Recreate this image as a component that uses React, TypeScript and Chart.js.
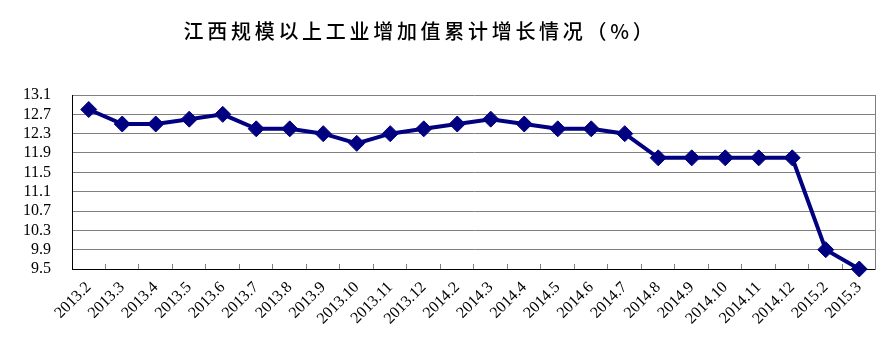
import React, { useEffect, useRef } from "react";
import { Chart, registerables } from "chart.js";

Chart.register(...registerables);

const titleText = "江西规模以上工业增加值累计增长情况（%）";

const categories = [
  "2013.2", "2013.3", "2013.4", "2013.5", "2013.6", "2013.7", "2013.8", "2013.9",
  "2013.10", "2013.11", "2013.12", "2014.2", "2014.3", "2014.4", "2014.5", "2014.6",
  "2014.7", "2014.8", "2014.9", "2014.10", "2014.11", "2014.12", "2015.2", "2015.3",
];

const growthValues = [
  12.8, 12.5, 12.5, 12.6, 12.7, 12.4, 12.4, 12.3,
  12.1, 12.3, 12.4, 12.5, 12.6, 12.5, 12.4, 12.4,
  12.3, 11.8, 11.8, 11.8, 11.8, 11.8, 9.9, 9.5,
];

const yTickValues = [9.5, 9.9, 10.3, 10.7, 11.1, 11.5, 11.9, 12.3, 12.7, 13.1];

const titlePlugin = {
  id: "customTitle",
  afterDraw(chart: any) {
    const ctx = chart.ctx;
    ctx.save();
    ctx.font = '500 20px "Noto Sans CJK SC"';
    try { (ctx as any).letterSpacing = "3.7px"; } catch (e) {}
    ctx.fillStyle = "#000";
    ctx.textAlign = "center";
    ctx.textBaseline = "middle";
    ctx.fillText(titleText, 412, 23);
    ctx.restore();
  },
};

export default function App() {
  const canvasRef = useRef<HTMLCanvasElement | null>(null);

  useEffect(() => {
    if (!canvasRef.current) return;
    const chart = new Chart(canvasRef.current, {
      type: "line",
      data: {
        labels: categories,
        datasets: [
          {
            data: growthValues,
            borderColor: "#000080",
            backgroundColor: "#000080",
            borderWidth: 4,
            pointStyle: "rectRot",
            pointRadius: 8,
            pointHoverRadius: 8,
            pointBackgroundColor: "#000080",
            pointBorderColor: "#000080",
            pointBorderWidth: 1,
            tension: 0,
            clip: false as any,
          },
        ],
      },
      options: {
        animation: false,
        responsive: true,
        maintainAspectRatio: false,
        layout: { padding: { top: 87, right: 9, left: 0, bottom: 0 } },
        plugins: {
          legend: { display: false },
          title: { display: false },
          tooltip: { enabled: false },
        },
        scales: {
          x: {
            offset: true,
            grid: {
              offset: true,
              drawOnChartArea: false,
              drawTicks: true,
              tickLength: -5,
              color: "#808080",
            },
            border: { color: "#000", width: 1 },
            ticks: {
              autoSkip: false,
              maxRotation: 45,
              minRotation: 45,
              padding: 14,
              color: "#000",
              font: { family: '"Liberation Serif"', size: 16 },
            },
            afterFit: (s: any) => {
              s.height = 87;
            },
          },
          y: {
            min: 9.5,
            max: 13.1,
            grid: { color: "#808080", drawTicks: false },
            border: { color: "#000", width: 1 },
            ticks: {
              autoSkip: false,
              padding: 21,
              color: "#000",
              font: { family: '"Liberation Serif"', size: 16 },
              callback: (v: any) => Number(v).toFixed(1),
            },
            afterBuildTicks: (s: any) => {
              s.ticks = yTickValues.map((v) => ({ value: v }));
            },
            afterFit: (s: any) => {
              s.width = 64;
            },
          },
          y2: {
            position: "right",
            grid: { drawOnChartArea: false, drawTicks: false },
            border: { color: "#808080", width: 1 },
            ticks: { display: false },
            afterFit: (s: any) => {
              s.width = 0;
            },
          },
        },
      },
      plugins: [titlePlugin],
    });
    return () => chart.destroy();
  }, []);

  return (
    <div style={{ width: 879, height: 348, position: "relative" }}>
      <canvas ref={canvasRef} />
    </div>
  );
}
